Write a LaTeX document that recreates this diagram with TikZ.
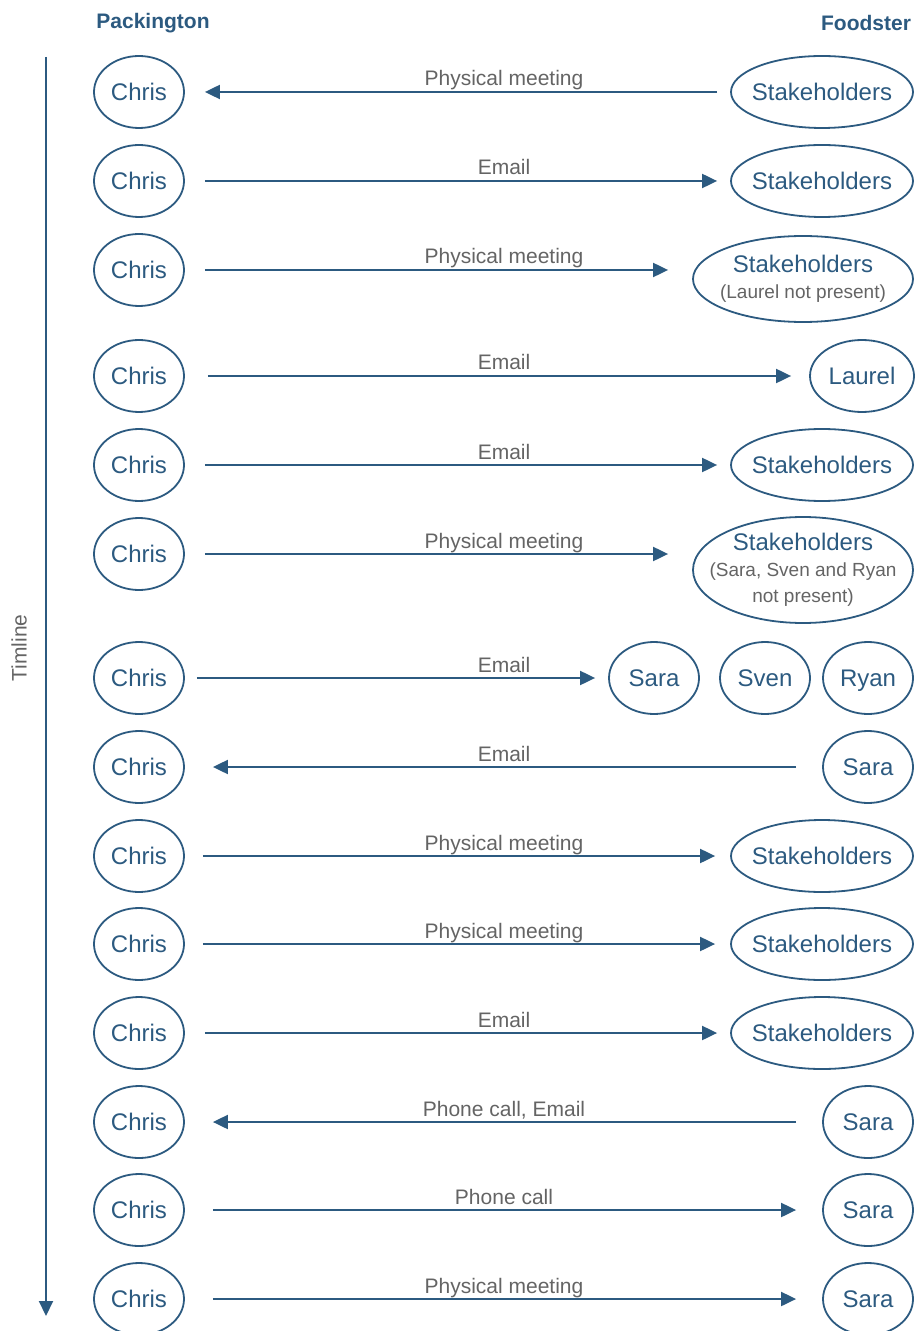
\documentclass[tikz,border=0pt]{standalone}
\usepackage{fontspec}
\setmainfont{Liberation Sans}
\usetikzlibrary{shapes.geometric,arrows.meta}
\definecolor{inkblue}{RGB}{44,90,128}
\definecolor{labelgray}{RGB}{100,100,100}
\newcommand{\subnote}{\color{labelgray}\fontsize{9.5}{12.5}\selectfont}

\tikzset{
    person/.style={ellipse, draw=inkblue, line width=0.9pt, inner sep=0pt,
        minimum width=45pt, minimum height=36pt, text=inkblue,
        font=\fontsize{12}{13}\selectfont},
    group/.style={person, minimum width=91pt, inner xsep=-20pt},
    bigroup/.style={person, minimum width=110pt, align=center,
        inner xsep=-30pt, inner ysep=-4pt},
    msg/.style={draw=inkblue, line width=1pt, -{Triangle[length=7.5pt,width=7pt]}},
    msglabel/.style={anchor=base, text=labelgray, font=\fontsize{10.5}{12}\selectfont},
    header/.style={text=inkblue, font=\fontsize{10.5}{12}\selectfont\bfseries}
}

\begin{document}
\begin{tikzpicture}[x=0.5pt, y=-0.5pt]
    \useasboundingbox (0,0) rectangle (917,1331);

    % Headers
    \node[header] (pack) at (153,23) {Packington};
    \node[header] (food) at (866,23) {Foodster};

    % Timeline
    \coordinate (tltop) at (46,57);
    \coordinate (tlend) at (46,1316);
    \draw[msg] (tltop) -- (tlend);
    \node[rotate=90, text=labelgray, font=\fontsize{10.5}{12}\selectfont] (tl) at (19,648) {Timline};

    % Packington side
    \foreach \y [count=\i] in {92,181,270,376,465,554,678,767,856,944,1033,1122,1210,1299} {
        \node[person] (c\i) at (139,\y) {Chris};
    }

    % Foodster side
    \node[group] (s1) at (822,92) {Stakeholders};
    \node[group] (s2) at (822,181) {Stakeholders};
    \node[bigroup, minimum height=43pt] (s3) at (803,279) {Stakeholders\\{\subnote (Laurel not present)}};
    \node[person, minimum width=52pt] (l4) at (862,376) {Laurel};
    \node[group] (s5) at (822,465) {Stakeholders};
    \node[bigroup, minimum height=53pt] (s6) at (803,570) {Stakeholders\\{\subnote (Sara, Sven and Ryan}\\{\subnote not present)}};
    \node[person] (sara7) at (654,678) {Sara};
    \node[person] (sven7) at (765,678) {Sven};
    \node[person, text depth=0pt] (ryan7) at (868,678) {Ryan};
    \node[person] (sara8) at (868,767) {Sara};
    \node[group] (s9) at (822,856) {Stakeholders};
    \node[group] (s10) at (822,944) {Stakeholders};
    \node[group] (s11) at (822,1033) {Stakeholders};
    \node[person] (sara12) at (868,1122) {Sara};
    \node[person] (sara13) at (868,1210) {Sara};
    \node[person] (sara14) at (868,1299) {Sara};

    % Messages
    \draw[msg, shorten <=6.5pt, shorten >=10pt] (s1.west) -- (c1.east);
    \node[msglabel] (m1) at (504,86) {Physical meeting};

    \draw[msg, shorten <=10pt, shorten >=6.5pt] (c2.east) -- (s2.west);
    \node[msglabel] (m2) at (504,175) {Email};

    \draw[msg, shorten <=10pt, shorten >=12pt] (c3.east) -- (c3.east -| s3.west);
    \node[msglabel] (m3) at (504,264) {Physical meeting};

    \draw[msg, shorten <=11.5pt, shorten >=9pt] (c4.east) -- (l4.west);
    \node[msglabel] (m4) at (504,370) {Email};

    \draw[msg, shorten <=10pt, shorten >=6.5pt] (c5.east) -- (s5.west);
    \node[msglabel] (m5) at (504,459) {Email};

    \draw[msg, shorten <=10pt, shorten >=12pt] (c6.east) -- (c6.east -| s6.west);
    \node[msglabel] (m6) at (504,548) {Physical meeting};

    \draw[msg, shorten <=6pt, shorten >=6.5pt] (c7.east) -- (sara7.west);
    \node[msglabel] (m7) at (504,672) {Email};

    \draw[msg, shorten <=13pt, shorten >=14pt] (sara8.west) -- (c8.east);
    \node[msglabel] (m8) at (504,761) {Email};

    \draw[msg, shorten <=9pt, shorten >=7.5pt] (c9.east) -- (s9.west);
    \node[msglabel] (m9) at (504,850) {Physical meeting};

    \draw[msg, shorten <=9pt, shorten >=7.5pt] (c10.east) -- (s10.west);
    \node[msglabel] (m10) at (504,938) {Physical meeting};

    \draw[msg, shorten <=10pt, shorten >=6.5pt] (c11.east) -- (s11.west);
    \node[msglabel] (m11) at (504,1027) {Email};

    \draw[msg, shorten <=13pt, shorten >=14pt] (sara12.west) -- (c12.east);
    \node[msglabel] (m12) at (504,1116) {Phone call, Email};

    \draw[msg, shorten <=14pt, shorten >=13pt] (c13.east) -- (sara13.west);
    \node[msglabel] (m13) at (504,1204) {Phone call};

    \draw[msg, shorten <=14pt, shorten >=13pt] (c14.east) -- (sara14.west);
    \node[msglabel] (m14) at (504,1293) {Physical meeting};
\end{tikzpicture}
\end{document}
